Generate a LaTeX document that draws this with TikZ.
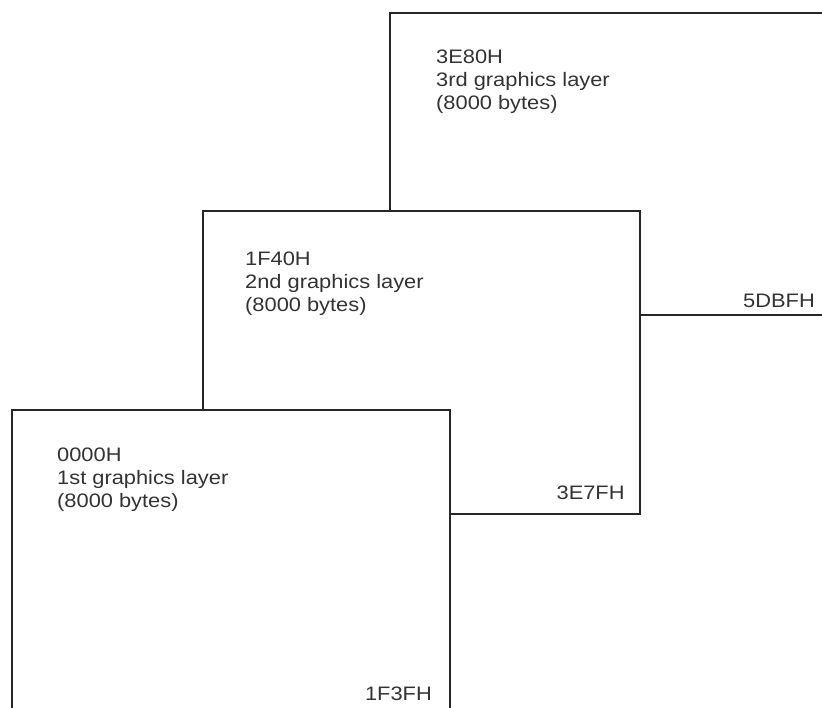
\documentclass[tikz,border=0pt]{standalone}
\usepackage{fontspec}
\setmainfont{Liberation Sans}[FakeStretch=1.12]
\usetikzlibrary{positioning}
\tikzset{
  layer/.style={draw=black!85,line width=1.8pt,fill=white,rectangle,inner sep=0pt,
    anchor=north west},
  addr/.style={font=\fontsize{19.5}{23}\selectfont,text=black!80,align=left,
    inner sep=0pt,anchor=north west},
  endaddr/.style={font=\fontsize{19.5}{23}\selectfont,text=black!80,inner sep=0pt,
    anchor=base east},
}

\begin{document}
\begin{tikzpicture}[x=1pt,y=-1pt]
  \useasboundingbox (0,0) rectangle (822,708);
  \clip (0,0) rectangle (822,708);
  % layers, back to front
  \node[layer,minimum width=461pt,minimum height=302pt] (third) at (389,12) {};
  \node[layer,minimum width=437pt,minimum height=303pt] (second) at (202,210) {};
  \node[layer,minimum width=438pt,minimum height=321pt] (first) at (11,409) {};
  % start addresses
  \node[addr] (thirdtxt) at ([shift={(47,38)}]third.north west)
    {3E80H\\3rd graphics layer\\(8000 bytes)};
  \node[addr] (secondtxt) at ([shift={(43,42)}]second.north west)
    {1F40H\\2nd graphics layer\\(8000 bytes)};
  \node[addr] (firsttxt) at ([shift={(46,39)}]first.north west)
    {0000H\\1st graphics layer\\(8000 bytes)};
  % end addresses
  \node[endaddr] (thirdend) at (815,308) {5DBFH};
  \node[endaddr] (secondend) at ([shift={(-16,-15)}]second.south east) {3E7FH};
  \node[endaddr] (firstend) at (432,700) {1F3FH};
\end{tikzpicture}
\end{document}
